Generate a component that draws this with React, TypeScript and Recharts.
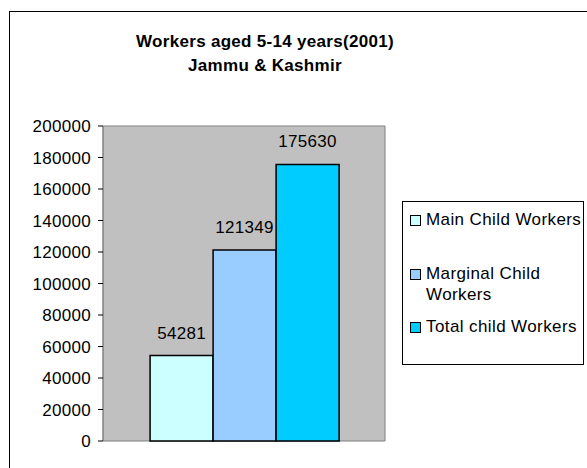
import { BarChart, Bar, XAxis, YAxis, CartesianGrid, ReferenceArea, LabelList, Legend } from 'recharts';

const categories = ['2001'];
const seriesNames = ['Main Child Workers', 'Marginal Child Workers', 'Total child Workers'];
const mainChild = [54281];
const marginalChild = [121349];
const totalChild = [175630];
const yTicks = [0, 20000, 40000, 60000, 80000, 100000, 120000, 140000, 160000, 180000, 200000];

const colors = ['#CCFFFF', '#99CCFF', '#00CCFF'];
const keys = ['main', 'marginal', 'total'];

const data = categories.map((c, i) => ({
  name: c,
  main: mainChild[i],
  marginal: marginalChild[i],
  total: totalChild[i],
}));

const FONT = '"Liberation Sans", Arial, Helvetica, sans-serif';
const textStyle = { fontSize: 17, letterSpacing: 0.3, fontFamily: FONT };

// legend drawn as a bordered box on the right, like the spreadsheet original
const LegendBox = () => (
  <div
    style={{
      position: 'absolute',
      left: 402,
      top: 201,
      width: 182,
      height: 164,
      border: '1px solid #000',
      background: '#fff',
      color: '#000',
      boxSizing: 'border-box',
      ...textStyle,
      letterSpacing: 0.4,
    }}
  >
    {seriesNames.map((name, i) => {
      const tops = [7, 61, 114];
      return (
        <div key={name} style={{ position: 'absolute', left: 7, top: tops[i], display: 'flex', lineHeight: '21px' }}>
          <span
            style={{
              display: 'inline-block',
              width: 11,
              height: 11,
              border: '1px solid #000',
              background: colors[i],
              boxSizing: 'border-box',
              marginTop: 6,
              marginRight: 5,
              flexShrink: 0,
            }}
          />
          <span style={{ width: 165, whiteSpace: 'nowrap' }}>{i === 1 ? <>Marginal Child<br />Workers</> : name}</span>
        </div>
      );
    })}
  </div>
);

export default function App() {
  return (
    <div style={{ position: 'absolute', left: 0, top: 0, width: 587, height: 468, background: '#fff', overflow: 'hidden' }}>
      <div
        style={{
          position: 'absolute',
          left: 9,
          top: 11,
          width: 600,
          height: 500,
          border: '1px solid #000',
        }}
      />
      <div
        style={{
          position: 'absolute',
          left: 0,
          top: 30,
          width: 530,
          textAlign: 'center',
          fontWeight: 'bold',
          lineHeight: '24px',
          color: '#000',
          ...textStyle,
        }}
      >
        Workers aged 5-14 years(2001)
        <br />
        Jammu &amp; Kashmir
      </div>
      <div style={{ position: 'absolute', left: 0, top: 0 }}>
        <BarChart
          width={587}
          height={468}
          data={data}
          margin={{ top: 126, right: 202, bottom: 27, left: 0 }}
          barCategoryGap="16.7%"
          barGap={0}
        >
          <CartesianGrid fill="#C0C0C0" horizontal={false} vertical={false} />
          <ReferenceArea y1={0} y2={200000} fill="none" stroke="#808080" strokeWidth={1} />
          <XAxis dataKey="name" hide />
          <YAxis
            width={103}
            domain={[0, 200000]}
            ticks={yTicks}
            interval={0}
            tickSize={5}
            tickLine={{ stroke: '#000' }}
            axisLine={{ stroke: '#808080' }}
            tick={{ fill: '#000', ...textStyle }}
            tickMargin={7}
          />
          <Legend content={() => null} />
          {keys.map((k, i) => (
            <Bar key={k} dataKey={k} name={seriesNames[i]} fill={colors[i]} stroke="#000" strokeWidth={1.5} isAnimationActive={false}>
              <LabelList dataKey={k} position="top" offset={17} fill="#000" {...textStyle} />
            </Bar>
          ))}
        </BarChart>
      </div>
      <LegendBox />
    </div>
  );
}
